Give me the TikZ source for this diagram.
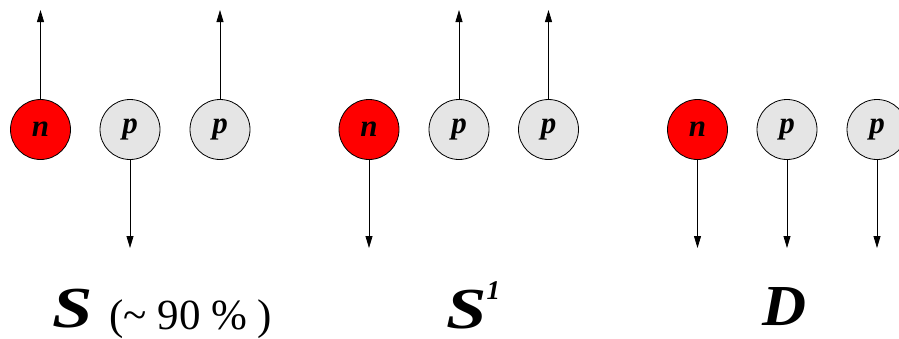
\documentclass[tikz,border=0pt]{standalone}
\usepackage{fontspec}
\setmainfont{Liberation Serif}
\usetikzlibrary{arrows.meta}

\begin{document}
\begin{tikzpicture}[x=1pt, y=-1pt, >={Triangle[length=12pt, width=7pt]},
  nucleon/.style={circle, draw=black, line width=0.8pt, minimum size=60pt, inner sep=0pt,
    font=\fontsize{31}{31}\selectfont\bfseries\itshape},
  neutron/.style={nucleon, fill=neutroncolor},
  proton/.style={nucleon, fill=protoncolor},
  spin/.style={->, line width=0.8pt},
  statelabel/.style={anchor=base west, inner sep=0pt, font=\fontsize{58}{58}\selectfont\bfseries\itshape}]

\definecolor{neutroncolor}{RGB}{255, 0, 0}
\definecolor{protoncolor}{RGB}{229, 229, 229}

\useasboundingbox (0, 0) rectangle (899, 338);

% S state
\node[neutron] (n1) at (40.5, 129.5) {n};
\node[proton] (p1a) at (130, 129.5) {p};
\node[proton] (p1b) at (220, 129.5) {p};
\coordinate (n1end) at (40.5, 10);
\coordinate (p1aend) at (130, 248);
\coordinate (p1bend) at (220, 10);
\draw[spin] (n1.north) -- (n1end);
\draw[spin] (p1a.south) -- (p1aend);
\draw[spin] (p1b.north) -- (p1bend);

\node[statelabel] (slabel) at (52, 327) {\scalebox{1.25}[1]{S}};
\node[anchor=base west, inner sep=0pt, font=\fontsize{43}{43}\selectfont] (sfrac) at (109, 329) {(\textasciitilde{} 90 \% )};

% S' state
\node[neutron] (n2) at (369, 129.5) {n};
\node[proton] (p2a) at (459, 129.5) {p};
\node[proton] (p2b) at (548.5, 129.5) {p};
\coordinate (n2end) at (369, 248);
\coordinate (p2aend) at (459, 10);
\coordinate (p2bend) at (548.5, 10);
\draw[spin] (n2.south) -- (n2end);
\draw[spin] (p2a.north) -- (p2aend);
\draw[spin] (p2b.north) -- (p2bend);

\node[statelabel] (s1label) at (446, 328) {\scalebox{1.25}[1]{S}\raisebox{29pt}{\fontsize{27}{27}\selectfont 1}};

% D state
\node[neutron] (n3) at (697.5, 129.5) {n};
\node[proton] (p3a) at (787, 129.5) {p};
\node[proton] (p3b) at (877, 129.5) {p};
\coordinate (n3end) at (697.5, 248);
\coordinate (p3aend) at (787, 248);
\coordinate (p3bend) at (877, 248);
\draw[spin] (n3.south) -- (n3end);
\draw[spin] (p3a.south) -- (p3aend);
\draw[spin] (p3b.south) -- (p3bend);

\node[statelabel] (dlabel) at (762, 325) {\scalebox{1.05}[1]{D}};

\end{tikzpicture}
\end{document}
